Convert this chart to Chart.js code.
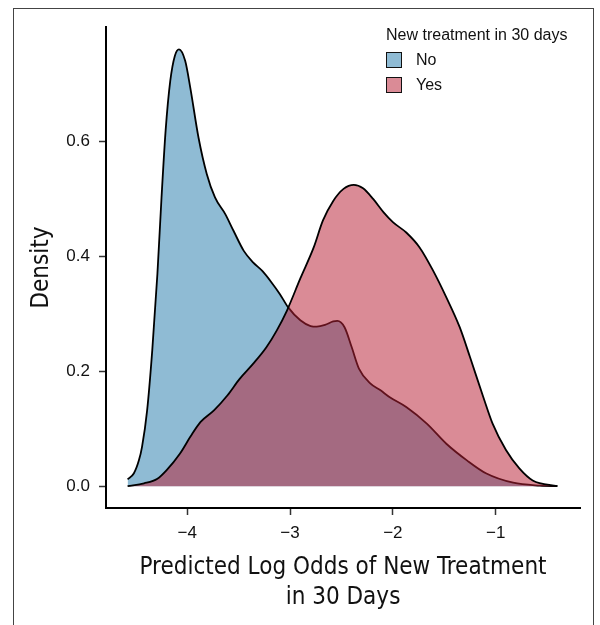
<!DOCTYPE html>
<html>
<head>
<meta charset="utf-8">
<script src="https://cdn.jsdelivr.net/npm/chart.js@4.4.1/dist/chart.umd.min.js"></script>
<style>
  body { margin: 0; background: #fff; }
  #wrap { position: relative; width: 600px; height: 625px; overflow: hidden; }
  #frame { position: absolute; left: 13px; top: 8px; width: 581px; height: 640px;
           border: 1.5px solid #444; box-sizing: border-box; pointer-events: none; }
  #legend { position: absolute; left: 386px; top: 25px; font-family: "Liberation Sans", Arial, sans-serif;
            font-size: 16px; color: #111; }
  #legend .title { height: 22px; line-height: 20px; }
  #legend .item { height: 25px; display: flex; align-items: center; }
  #legend .box { width: 16px; height: 16px; box-sizing: border-box; border: 1.8px solid #111; margin-right: 14px; }
</style>
</head>
<body>
<div id="wrap">
  <canvas id="densityChart"></canvas>
  <div id="frame"></div>
  <div id="legend"></div>
</div>
<script>
// ── DATA ───────────────────────────────────────────────────

const groups = ['No', 'Yes'];

// density curve, no new treatment
const noX = [-4.58, -4.52, -4.47, -4.44, -4.39, -4.34, -4.29, -4.25, -4.21, -4.165, -4.12, -4.08,
             -4.02, -3.97, -3.89, -3.81, -3.73, -3.63, -3.55, -3.45, -3.36, -3.27, -3.18, -3.10,
             -3.02, -2.90, -2.80, -2.74, -2.66, -2.58, -2.54, -2.47, -2.40, -2.33, -2.22, -2.12,
             -2.03, -1.87, -1.67, -1.48, -1.28, -1.09, -0.83, -0.57, -0.40];
const noY = [0.012, 0.022, 0.045, 0.068, 0.132, 0.237, 0.370, 0.503, 0.620, 0.706, 0.750, 0.761,
             0.741, 0.694, 0.607, 0.544, 0.503, 0.474, 0.445, 0.410, 0.390, 0.375, 0.355, 0.335,
             0.312, 0.289, 0.279, 0.278, 0.281, 0.287, 0.288, 0.277, 0.242, 0.205, 0.179, 0.167,
             0.155, 0.138, 0.109, 0.074, 0.045, 0.022, 0.006, 0.001, 0.000];

// density curve, new treatment within 30 days
const yesX = [-4.58, -4.42, -4.29, -4.20, -4.07, -3.97, -3.87, -3.74, -3.61, -3.49, -3.36, -3.23,
              -3.13, -3.03, -2.90, -2.77, -2.68, -2.58, -2.48, -2.38, -2.29, -2.19, -2.09, -2.00,
              -1.87, -1.74, -1.61, -1.48, -1.35, -1.25, -1.12, -1.03, -0.90, -0.77, -0.64, -0.40];
const yesY = [0.000, 0.005, 0.013, 0.028, 0.057, 0.086, 0.112, 0.132, 0.158, 0.187, 0.213, 0.242,
              0.271, 0.306, 0.362, 0.416, 0.463, 0.497, 0.518, 0.525, 0.519, 0.500, 0.477, 0.460,
              0.442, 0.416, 0.376, 0.329, 0.277, 0.225, 0.155, 0.109, 0.063, 0.031, 0.010, 0.000];

const xTicks = [-4, -3, -2, -1];
const yTicks = [0, 0.2, 0.4, 0.6];

const colors = ['rgb(143, 187, 212)', 'rgba(184, 33, 54, 0.52)'];

// ── CHART ──────────────────────────────────────────────────

const toPoints = (xs, ys) => xs.map((x, i) => ({ x: x, y: ys[i] }));
const minus = v => (v < 0 ? '\u2212' + Math.abs(v) : String(v));

const tickFont = { family: '"Liberation Sans", Arial, sans-serif', size: 17 };
const titleFont = { family: '"DejaVu Sans Condensed", "Liberation Sans Narrow", sans-serif', size: 24, lineHeight: 1.25 };

const ctx = document.getElementById('densityChart').getContext('2d');

new Chart(ctx, {
  type: 'line',
  data: {
    datasets: [
      {
        label: groups[0],
        data: toPoints(noX, noY),
        order: 1,
        backgroundColor: colors[0],
        borderColor: '#000',
        borderWidth: 1.8,
        fill: 'origin',
        pointRadius: 0,
        cubicInterpolationMode: 'monotone'
      },
      {
        label: groups[1],
        data: toPoints(yesX, yesY),
        order: 0,
        backgroundColor: colors[1],
        borderColor: '#000',
        borderWidth: 1.8,
        fill: 'origin',
        pointRadius: 0,
        cubicInterpolationMode: 'monotone'
      }
    ]
  },
  options: {
    responsive: true,
    maintainAspectRatio: false,
    animation: false,
    layout: { padding: { top: 27, right: 20, bottom: 0, left: 0 } },
    plugins: {
      legend: { display: false },
      tooltip: { enabled: false }
    },
    scales: {
      x: {
        type: 'linear',
        min: -4.79,
        max: -0.18,
        afterBuildTicks: s => { s.ticks = xTicks.map(v => ({ value: v })); },
        afterFit: s => { s.height = 117; },
        ticks: { color: '#111', font: tickFont, padding: 8, maxRotation: 0, callback: v => minus(v) },
        grid: { drawOnChartArea: false, drawTicks: true, tickLength: 7, tickWidth: 1.5, color: '#333' },
        border: { display: true, color: '#000', width: 2 },
        title: {
          display: true,
          text: ['Predicted Log Odds of New Treatment', 'in 30 Days'],
          color: '#111',
          font: titleFont,
          padding: { top: 0, bottom: 12 }
        }
      },
      y: {
        min: -0.038,
        max: 0.8,
        afterBuildTicks: s => { s.ticks = yTicks.map(v => ({ value: v })); },
        afterFit: s => { s.width = 106; },
        ticks: { color: '#111', font: tickFont, padding: 9, callback: v => v.toFixed(1) },
        grid: { drawOnChartArea: false, drawTicks: true, tickLength: 7, tickWidth: 1.5, color: '#333' },
        border: { display: true, color: '#000', width: 2 },
        title: {
          display: true,
          text: 'Density',
          color: '#111',
          font: titleFont,
          padding: { top: 27, bottom: 0 }
        }
      }
    }
  }
});

// ── LEGEND ─────────────────────────────────────────────────

const legend = document.getElementById('legend');
legend.innerHTML = '<div class="title">New treatment in 30 days</div>' +
  groups.map((g, i) =>
    `<div class="item"><span class="box" style="background:${colors[i]}"></span>${g}</div>`
  ).join('');
</script>
</body>
</html>
